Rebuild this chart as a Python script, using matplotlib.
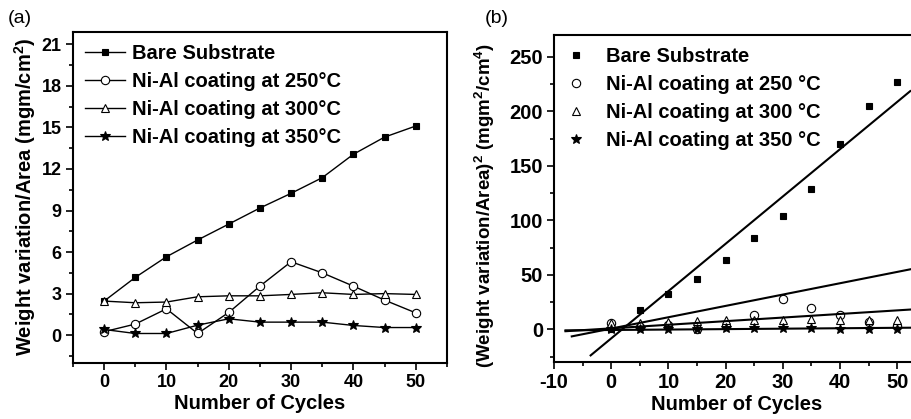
import numpy as np
import matplotlib.pyplot as plt

plt.rcParams['font.family'] = ['Liberation Sans', 'DejaVu Sans']
plt.rcParams['font.weight'] = 'bold'
plt.rcParams['axes.unicode_minus'] = False
plt.rcParams['mathtext.fontset'] = 'custom'
plt.rcParams['mathtext.rm'] = 'Liberation Sans:bold'
plt.rcParams['mathtext.it'] = 'Liberation Sans:bold'
plt.rcParams['mathtext.bf'] = 'Liberation Sans:bold'

cycles = [0, 5, 10, 15, 20, 25, 30, 35, 40, 45, 50]

# (a) weight variation / area
bare_a = [2.46, 4.17, 5.66, 6.87, 8.02, 9.18, 10.24, 11.37, 13.06, 14.3, 15.1]
c250_a = [0.25, 0.8, 1.9, 0.12, 1.64, 3.54, 5.3, 4.5, 3.54, 2.53, 1.61]
c300_a = [2.46, 2.34, 2.39, 2.77, 2.84, 2.84, 2.94, 3.06, 2.94, 3.0, 2.94]
c350_a = [0.41, 0.12, 0.12, 0.72, 1.18, 0.94, 0.94, 0.94, 0.70, 0.55, 0.55]

# (b) squared values
bare_b = [0, 17.4, 32, 46.5, 63.6, 83.4, 103.6, 129, 170, 204.8, 227.4]
c250_b = [6, 2, 4, 0, 3, 12.8, 28, 20, 13, 6.5, 3]
c300_b = [6, 6, 6.5, 8, 9, 8.5, 9, 9.5, 9, 9, 9]
c350_b = [0.2, 0, 0, 0.5, 1.4, 0.9, 0.9, 0.9, 0.5, 0.3, 0.3]

# linear fits in (b): slope, intercept, x range
fit_slope = [4.34, 1.04, 0.33, 0.04]
fit_icpt = [-8.3, 0.7, 0.9, -0.6]
fit_x0 = [-3.6, -6.9, -8.0, -8.0]
fit_x1 = [52.3, 52.3, 52.3, 52.3]

labels_a = ['Bare Substrate', 'Ni-Al coating at 250°C',
            'Ni-Al coating at 300°C', 'Ni-Al coating at 350°C']
labels_b = ['Bare Substrate', 'Ni-Al coating at 250 °C',
            'Ni-Al coating at 300 °C', 'Ni-Al coating at 350 °C']
markers = ['s', 'o', '^', '*']
fills = ['k', 'white', 'white', 'k']
msizes = [5, 6, 6, 7]

fig = plt.figure(figsize=(9.12, 4.19), dpi=100)
ax1 = fig.add_axes([0.080, 0.134, 0.410, 0.790])
ax2 = fig.add_axes([0.6075, 0.136, 0.40, 0.780])

for ax, ls in ((ax1, 13), (ax2, 14.5)):
    for s in ax.spines.values():
        s.set_linewidth(1.5)
    ax.tick_params(which='both', direction='out', top=False, right=False,
                   width=1.2, labelsize=ls)
    ax.tick_params(which='major', length=5, pad=3)
    ax.tick_params(which='minor', length=3)

# panel (a)
for ys, lab, m, fc, ms in zip([bare_a, c250_a, c300_a, c350_a], labels_a,
                              markers, fills, msizes):
    ax1.plot(cycles, ys, color='k', lw=1.0, marker=m, mfc=fc, mec='k',
             ms=ms, mew=0.8, label=lab)
ax1.set_xlim(-5, 55)
ax1.set_ylim(-2, 21.9)
ax1.set_xticks(np.arange(0, 51, 10))
ax1.set_xticks(np.arange(-5, 56, 5), minor=True)
ax1.set_yticks(np.arange(0, 22, 3))
ax1.set_yticks(np.arange(-1.5, 22, 1.5), minor=True)
ax1.set_xlabel('Number of Cycles', fontsize=14.5, fontweight='bold', labelpad=2)
ax1.set_ylabel('Weight variation/Area (mgm/cm$^2$)', fontsize=14.5,
               fontweight='bold', labelpad=3)
ax1.legend(loc='upper left', frameon=False, fontsize=14.5, handlelength=2.0,
           handletextpad=0.35, labelspacing=0.45, borderaxespad=0.2,
           borderpad=0.4)
fig.text(0.008, 0.957, '(a)', fontsize=14, fontweight='normal', va='center')

# panel (b)
for ys, lab, m, fc, ms in zip([bare_b, c250_b, c300_b, c350_b], labels_b,
                              markers, fills, msizes):
    ax2.plot(cycles, ys, ls='none', marker=m, mfc=fc, mec='k', ms=ms,
             mew=0.8, label=lab)
for k, b, x0, x1 in zip(fit_slope, fit_icpt, fit_x0, fit_x1):
    xx = np.array([x0, x1])
    ax2.plot(xx, k * xx + b, color='k', lw=1.5)
ax2.set_xlim(-10, 53.8)
ax2.set_ylim(-30, 270)
ax2.set_xticks(np.arange(-10, 51, 10))
ax2.set_xticks(np.arange(-10, 54, 5), minor=True)
ax2.set_yticks(np.arange(0, 251, 50))
ax2.set_yticks(np.arange(-25, 270, 25), minor=True)
ax2.set_xlabel('Number of Cycles', fontsize=14.5, fontweight='bold', labelpad=2)
ax2.set_ylabel('(Weight variation/Area)$^2$ (mgm$^2$/cm$^4$)', fontsize=13.5,
               fontweight='bold', labelpad=3)
ax2.yaxis.set_label_coords(-0.155, 0.48)
ax2.legend(loc='upper left', frameon=False, fontsize=14.5, handlelength=1.0,
           handletextpad=1.0, labelspacing=0.45, borderaxespad=0.2,
           borderpad=0.4)
fig.text(0.532, 0.957, '(b)', fontsize=14, fontweight='normal', va='center')

fig.savefig('out.png', dpi=100)
